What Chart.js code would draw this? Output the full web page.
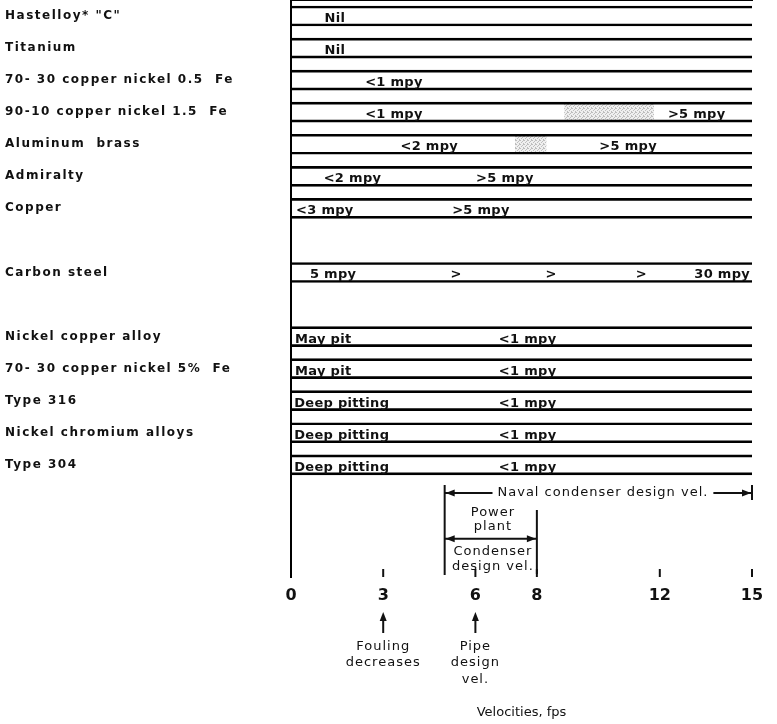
<!DOCTYPE html>
<html>
<head>
<meta charset="utf-8">
<script src="https://cdn.jsdelivr.net/npm/chart.js@4/dist/chart.umd.min.js"></script>
<style>
  html, body { margin: 0; padding: 0; background: #fff; }
  #wrap { width: 777px; height: 724px; position: relative; }
</style>
</head>
<body>
<div id="wrap"><canvas id="chart"></canvas></div>
<script>
// materials and the row (slot) each one sits in, blank slots are gaps
const materials = ['Hastelloy* "C"', 'Titanium', '70- 30 copper nickel 0.5  Fe', '90-10 copper nickel 1.5  Fe',
  'Aluminum  brass', 'Admiralty', 'Copper', 'Carbon steel', 'Nickel copper alloy',
  '70- 30 copper nickel 5%  Fe', 'Type 316', 'Nickel chromium alloys', 'Type 304'];
const materialRows = [0, 1, 2, 3, 4, 5, 6, 8, 10, 11, 12, 13, 14];
const rowCount = 18;

// velocity axis (fps)
const velocityRange = [0, 15];
const velocityTicks = [0, 3, 6, 8, 12, 15];

// shaded transition zones
const shadeRows = [3, 4];
const shadeFrom = [8.9, 7.3];
const shadeTo = [11.8, 8.3];

// corrosion notes written in the bands
const noteRows = [0, 1, 2, 3, 3, 4, 4, 5, 5, 6, 6, 8, 8, 8, 8, 8, 10, 10, 11, 11, 12, 12, 13, 13, 14, 14];
const noteVel = [1.43, 1.43, 3.35, 3.35, 13.2, 4.5, 10.97, 2.0, 6.96, 1.1, 6.18, 1.37, 5.37, 8.46, 11.4, 14.03,
  1.05, 7.7, 1.05, 7.7, 1.65, 7.7, 1.65, 7.7, 1.65, 7.7];
const noteText = ['Nil', 'Nil', '<1 mpy', '<1 mpy', '>5 mpy', '<2 mpy', '>5 mpy', '<2 mpy', '>5 mpy', '<3 mpy', '>5 mpy',
  '5 mpy', '>', '>', '>', '30 mpy', 'May pit', '<1 mpy', 'May pit', '<1 mpy', 'Deep pitting', '<1 mpy',
  'Deep pitting', '<1 mpy', 'Deep pitting', '<1 mpy'];

// design velocity markers
const navalRange = [5, 15];
const plantRange = [5, 8];
const foulingVel = 3;
const pipeVel = 6;

const ink = '#111';
const font = '"DejaVu Sans", sans-serif';

const rowLabels = [];
const bandData = [];
const shadeData = [];
for (let i = 0; i < rowCount; i++) {
  rowLabels.push('');
  bandData.push(null);
  shadeData.push(null);
}
materialRows.forEach((r, i) => {
  rowLabels[r] = materials[i];
  bandData[r] = velocityRange.slice();
});
shadeRows.forEach((r, i) => {
  shadeData[r] = [shadeFrom[i], shadeTo[i]];
});

function stipple() {
  const c = document.createElement('canvas');
  c.width = 4; c.height = 4;
  const g = c.getContext('2d');
  g.fillStyle = '#efefef';
  g.fillRect(0, 0, 4, 4);
  g.fillStyle = '#bdbdbd';
  [[0, 0], [2, 1], [1, 2], [3, 3], [3, 0]].forEach(([x, y]) => g.fillRect(x, y, 1, 1));
  return g.createPattern(c, 'repeat');
}

function arrowHead(ctx, x, y, dir) {
  const L = 9, W = 3.5;
  ctx.beginPath();
  if (dir === 'left') { ctx.moveTo(x, y); ctx.lineTo(x + L, y - W); ctx.lineTo(x + L, y + W); }
  if (dir === 'right') { ctx.moveTo(x, y); ctx.lineTo(x - L, y - W); ctx.lineTo(x - L, y + W); }
  if (dir === 'up') { ctx.moveTo(x, y); ctx.lineTo(x - W, y + L); ctx.lineTo(x + W, y + L); }
  ctx.closePath();
  ctx.fill();
}

function line(ctx, x1, y1, x2, y2) {
  ctx.beginPath();
  ctx.moveTo(x1, y1);
  ctx.lineTo(x2, y2);
  ctx.stroke();
}

const annotate = {
  id: 'annotate',
  beforeDraw(chart) {
    // wide lettering for the material names on the y axis
    chart.ctx.letterSpacing = '1.5px';
  },
  beforeDatasetsDraw(chart) {
    chart.ctx.letterSpacing = '0px';
  },
  afterDraw(chart) {
    const { ctx, chartArea } = chart;
    const xs = chart.scales.x, ys = chart.scales.y;
    const X = v => xs.getPixelForValue(v);
    const Y = r => ys.getPixelForValue(r);
    const axisY = chartArea.bottom;
    ctx.save();
    ctx.strokeStyle = ink;
    ctx.fillStyle = ink;
    ctx.lineWidth = 2;

    // tick marks pointing up into the plot
    velocityTicks.forEach(v => {
      if (v > 0) line(ctx, X(v), axisY, X(v), axisY - 8);
    });

    // band notes
    ctx.font = 'bold 13px ' + font;
    ctx.letterSpacing = '0.3px';
    ctx.textAlign = 'center';
    ctx.textBaseline = 'alphabetic';
    noteText.forEach((t, i) => ctx.fillText(t, X(noteVel[i]), Y(noteRows[i]) + 6));

    // naval condenser design velocity
    ctx.font = '13px ' + font;
    ctx.letterSpacing = '1px';
    ctx.textBaseline = 'middle';
    const ny = Y(14.88);
    const nText = 'Naval condenser design vel.';
    const ncx = X(10.15);
    const nw = ctx.measureText(nText).width;
    ctx.fillText(nText, ncx, ny);
    line(ctx, X(navalRange[0]), ny, ncx - nw / 2 - 5, ny);
    line(ctx, ncx + nw / 2 + 5, ny, X(navalRange[1]), ny);
    arrowHead(ctx, X(navalRange[0]) + 1, ny, 'left');
    arrowHead(ctx, X(navalRange[1]) - 1, ny, 'right');
    line(ctx, X(navalRange[0]), Y(14.63), X(navalRange[0]), axisY - 2);
    line(ctx, X(navalRange[1]), Y(14.63), X(navalRange[1]), Y(15.1));

    // power plant condenser design velocity
    const pcx = X(6.57);
    ctx.fillText('Power', pcx, Y(15.5));
    ctx.fillText('plant', pcx, Y(15.94));
    const py = Y(16.31);
    line(ctx, X(plantRange[0]), py, X(plantRange[1]), py);
    arrowHead(ctx, X(plantRange[0]) + 1, py, 'left');
    arrowHead(ctx, X(plantRange[1]) - 1, py, 'right');
    line(ctx, X(plantRange[1]), Y(15.41), X(plantRange[1]), axisY - 3);
    ctx.fillText('Condenser', pcx, Y(16.7));
    ctx.fillText('design vel.', pcx, Y(17.19));

    // notes under the axis
    [foulingVel, pipeVel].forEach(v => {
      line(ctx, X(v), axisY + 56, X(v), axisY + 40);
      arrowHead(ctx, X(v), axisY + 35, 'up');
    });
    ctx.fillText('Fouling', X(foulingVel), axisY + 70);
    ctx.fillText('decreases', X(foulingVel), axisY + 86);
    ctx.fillText('Pipe', X(pipeVel), axisY + 70);
    ctx.fillText('design', X(pipeVel), axisY + 86);
    ctx.fillText('vel.', X(pipeVel), axisY + 103);
    ctx.restore();
  }
};

new Chart(document.getElementById('chart'), {
  type: 'bar',
  data: {
    labels: rowLabels,
    datasets: [
      {
        data: bandData,
        backgroundColor: 'rgba(0,0,0,0)',
        borderColor: '#000',
        borderWidth: { top: 2, bottom: 2, left: 0, right: 0 },
        borderSkipped: false,
        barThickness: 20,
        grouped: false
      },
      {
        data: shadeData,
        backgroundColor: stipple(),
        borderWidth: 0,
        barThickness: 16,
        grouped: false
      }
    ]
  },
  options: {
    indexAxis: 'y',
    responsive: true,
    maintainAspectRatio: false,
    animation: false,
    devicePixelRatio: 1,
    layout: { padding: { left: 5, right: 25, top: 0, bottom: 0 } },
    plugins: {
      legend: { display: false },
      tooltip: { enabled: false }
    },
    scales: {
      x: {
        type: 'linear',
        min: velocityRange[0],
        max: velocityRange[1],
        afterBuildTicks: scale => { scale.ticks = velocityTicks.map(v => ({ value: v })); },
        afterFit: scale => { scale.height = 147; },
        grid: { display: false, drawTicks: false, z: 1 },
        border: { display: true, color: '#000', width: 2 },
        ticks: {
          z: 1,
          color: ink,
          padding: 9,
          font: { family: font, size: 16, weight: 'bold' },
          callback: v => String(v)
        },
        title: {
          display: true,
          text: 'Velocities, fps',
          color: ink,
          font: { family: font, size: 13 },
          padding: { top: 0, bottom: 4 }
        }
      },
      y: {
        type: 'category',
        afterFit: scale => {
          scale.width = 286;
          scale.paddingTop = 0;
          scale.paddingBottom = 0;
        },
        grid: { display: false, drawTicks: false },
        border: { display: true, color: '#000', width: 2 },
        ticks: {
          autoSkip: false,
          crossAlign: 'far',
          color: ink,
          font: { family: font, size: 12, weight: 'bold' }
        }
      }
    }
  },
  plugins: [annotate]
});
</script>
</body>
</html>
